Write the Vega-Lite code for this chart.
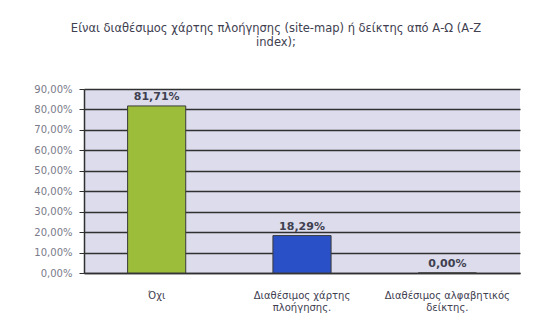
{
  "$schema": "https://vega.github.io/schema/vega-lite/v6.json",
  "width": 436,
  "height": 184,
  "autosize": {"type": "none"},
  "padding": {"left": 84, "top": 89, "right": 17, "bottom": 57},
  "background": "#ffffff",
  "title": {
    "text": ["Είναι διαθέσιμος χάρτης πλοήγησης (site-map) ή δείκτης από Α-Ω (Α-Ζ", "index);"],
    "anchor": "middle",
    "dx": -26,
    "offset": 36,
    "font": "DejaVu Sans",
    "fontSize": 11.5,
    "fontWeight": "normal",
    "color": "#404050",
    "lineHeight": 14
  },
  "data": {
    "values": [
      {"category": "Όχι", "value": 0.8171},
      {"category": "Διαθέσιμος χάρτης|πλοήγησης.", "value": 0.1829},
      {"category": "Διαθέσιμος αλφαβητικός|δείκτης.", "value": 0.0}
    ]
  },
  "config": {
    "locale": {"number": {"decimal": ",", "thousands": ".", "grouping": [3], "currency": ["", " €"]}},
    "view": {"fill": "#dcdcec", "stroke": null},
    "font": "DejaVu Sans"
  },
  "encoding": {
    "x": {
      "field": "category",
      "type": "nominal",
      "sort": null,
      "scale": {"paddingInner": 0.6, "paddingOuter": 0.3},
      "axis": {
        "title": null,
        "labelAngle": 0,
        "labelExpr": "split(datum.label, '|')",
        "labelFontSize": 10,
        "labelColor": "#404050",
        "labelPadding": 17,
        "labelLineHeight": 12,
        "domainColor": "#303030",
        "domainWidth": 1.5,
        "ticks": false
      }
    },
    "y": {
      "field": "value",
      "type": "quantitative",
      "scale": {"domain": [0, 0.9]},
      "axis": {
        "title": null,
        "format": ".2%",
        "values": [0, 0.1, 0.2, 0.3, 0.4, 0.5, 0.6, 0.7, 0.8, 0.9],
        "labelFontSize": 10,
        "labelColor": "#7a7a8a",
        "labelPadding": 7,
        "gridColor": "#303030",
        "gridWidth": 1.5,
        "domainColor": "#303030",
        "domainWidth": 1.5,
        "tickColor": "#303030",
        "tickSize": 5
      }
    }
  },
  "layer": [
    {
      "mark": {"type": "bar", "stroke": "#3a3a3a", "strokeWidth": 1},
      "encoding": {
        "color": {
          "field": "category",
          "type": "nominal",
          "sort": null,
          "scale": {"range": ["#9cbd3a", "#2a50c8", "#8a7fb8"]},
          "legend": null
        }
      }
    },
    {
      "mark": {"type": "text", "baseline": "bottom", "dy": -4, "fontWeight": "bold", "fontSize": 11, "color": "#404050"},
      "encoding": {
        "text": {"field": "value", "type": "quantitative", "format": ".2%"}
      }
    }
  ]
}
